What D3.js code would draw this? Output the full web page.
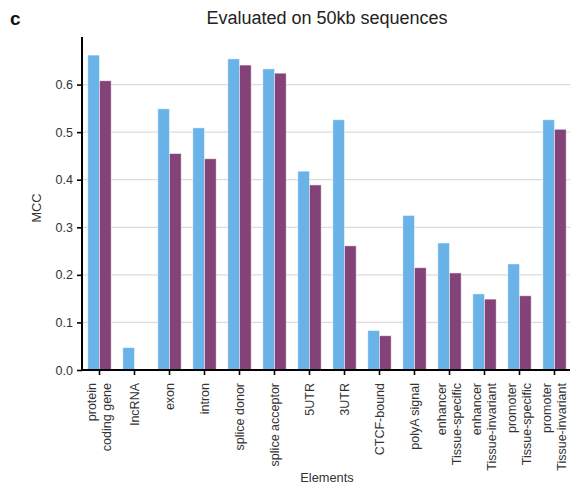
<!DOCTYPE html>
<html><head><meta charset="utf-8">
<script src="https://cdn.jsdelivr.net/npm/d3@7"></script>
<style>body{margin:0;background:#fff}svg{display:block}text{font-family:"Liberation Sans",Arial,sans-serif}</style>
</head><body><div id="chart"></div>
<script>
const categories = ["protein\ncoding gene","lncRNA","exon","intron","splice donor","splice acceptor","5UTR","3UTR","CTCF-bound","polyA signal","enhancer\nTissue-specific","enhancer\nTissue-invariant","promoter\nTissue-specific","promoter\nTissue-invariant"];
const seriesA = [0.662,0.047,0.549,0.509,0.654,0.633,0.418,0.526,0.083,0.325,0.267,0.160,0.223,0.526];
const seriesB = [0.608,0.000,0.455,0.444,0.641,0.624,0.389,0.261,0.072,0.215,0.204,0.149,0.156,0.506];
const yTicks = [0.0,0.1,0.2,0.3,0.4,0.5,0.6];
const colors = ["#6ab3e8","#834379"];

const W=570,H=487;
const svg=d3.select("#chart").append("svg").attr("width",W).attr("height",H);
const x=d3.scaleBand().domain(categories).range([82,572]).padding(0);
const y=d3.scaleLinear().domain([0,0.7]).range([370,37]);
const bw=x.bandwidth()/3;

// grid
svg.append("g").selectAll("line").data(yTicks.filter(d=>d>0)).join("line")
  .attr("x1",82).attr("x2",572).attr("y1",d=>y(d)).attr("y2",d=>y(d))
  .attr("stroke","#dcdcdc").attr("stroke-width",1.2);

// bars
const g=svg.append("g");
[seriesA,seriesB].forEach((s,si)=>{
  g.selectAll(".b"+si).data(s.map((v,i)=>({c:categories[i],v}))).join("rect")
   .attr("x",d=>x(d.c)+x.bandwidth()/2-bw+si*bw)
   .attr("y",d=>y(d.v)).attr("width",bw).attr("height",d=>y(0)-y(d.v))
   .attr("fill",colors[si]).attr("stroke","#fff").attr("stroke-opacity",0.6).attr("stroke-width",0.8);
});

// y axis
const ya=svg.append("g").attr("transform","translate(82,0)")
  .call(d3.axisLeft(y).tickValues(yTicks).tickFormat(d3.format(".1f")).tickSize(5).tickPadding(4));
ya.select(".domain").attr("stroke","#000").attr("stroke-width",2).attr("d","M0,37V370");
ya.selectAll(".tick line").attr("stroke","#000").attr("stroke-width",1.6);
ya.selectAll(".tick text").attr("font-size",12.5).attr("fill","#333");

// x axis
const xa=svg.append("g").attr("transform","translate(0,370)")
  .call(d3.axisBottom(x).tickSize(5).tickFormat(""));
xa.select(".domain").attr("stroke","#000").attr("stroke-width",2).attr("d","M81,0H572");
xa.selectAll(".tick line").attr("stroke","#000").attr("stroke-width",1.6);
xa.selectAll(".tick").each(function(d){
  const lines=d.split("\n");
  const t=d3.select(this).append("text").attr("transform","translate(0,13) rotate(-90)")
    .attr("text-anchor","end").attr("font-size",12.5).attr("fill","#333");
  const lh=15;
  lines.forEach((l,i)=>{
    t.append("tspan").attr("x",0).attr("y",(i-(lines.length-1)/2)*lh).attr("dy","0.35em").text(l);
  });
});

// labels
svg.append("text").attr("x",327).attr("y",24).attr("text-anchor","middle").attr("font-size",18).attr("fill","#222").text("Evaluated on 50kb sequences");
svg.append("text").attr("x",10).attr("y",25).attr("font-size",19).attr("font-weight","bold").attr("fill","#111").text("c");
svg.append("text").attr("transform","translate(41,208) rotate(-90)").attr("text-anchor","middle").attr("font-size",12.8).attr("fill","#333").text("MCC");
svg.append("text").attr("x",327).attr("y",482).attr("text-anchor","middle").attr("font-size",12.8).attr("fill","#333").text("Elements");
</script></body></html>
